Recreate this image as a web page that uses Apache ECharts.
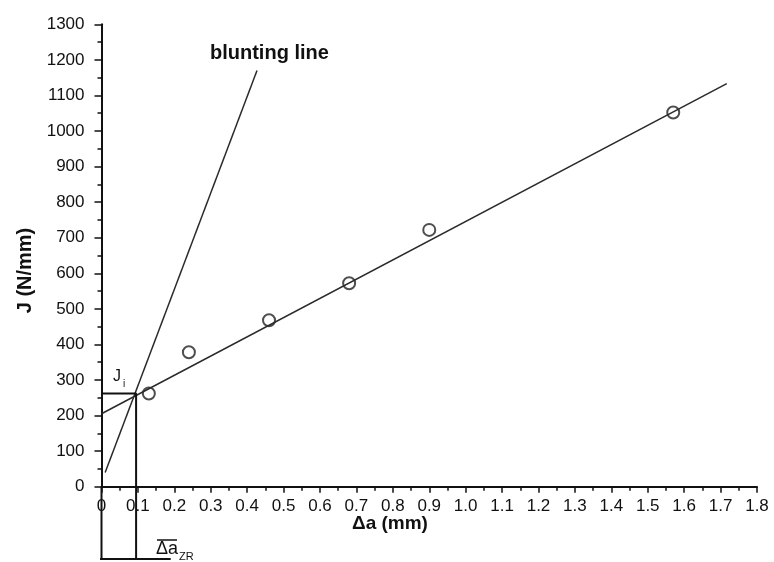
<!DOCTYPE html>
<html>
<head>
<meta charset="utf-8">
<script src="https://cdn.jsdelivr.net/npm/echarts@6/dist/echarts.min.js"></script>
<style>
  html, body { margin: 0; padding: 0; background: #fff; }
  #main { width: 774px; height: 562px; }
</style>
</head>
<body>
<div id="main"></div>
<script>
// measured points
var crackExt = [0.13, 0.24, 0.46, 0.68, 0.90, 1.57];
var jValues = [262, 378, 468, 572, 722, 1052];

// fitted line and blunting line (end points)
var fitLine = [[0, 205], [1.717, 1133]];
var bluntLine = [[0.01, 40], [0.427, 1170]];

// initiation point J_i
var jiPoint = [0.095, 262];
var dropTo = -203;
var baseLine = [[-0.078, -203], [0.19, -203]];

var xMax = 1.8, yMax = 1300;

var font = 'Liberation Sans, Arial, sans-serif';
var ink = '#111';

var myChart = echarts.init(document.getElementById('main'));

var points = crackExt.map(function (x, i) { return [x, jValues[i]]; });

var option = {
    backgroundColor: '#fff',
    animation: false,
    grid: {
        left: 101.5,
        right: 17,
        top: 24.3,
        bottom: 75.3
    },
    xAxis: {
        type: 'value',
        min: 0,
        max: xMax,
        interval: 0.1,
        splitLine: { show: false },
        axisLine: { onZero: false, lineStyle: { color: ink, width: 2 } },
        axisTick: { length: 6, lineStyle: { color: ink, width: 1.5 } },
        minorTick: { show: true, splitNumber: 2, length: 4, lineStyle: { color: ink, width: 1.5 } },
        axisLabel: {
            color: ink, fontFamily: font, fontSize: 17, margin: 11,
            formatter: function (v) { return v === 0 ? '0' : v.toFixed(1); }
        }
    },
    yAxis: {
        type: 'value',
        min: 0,
        max: yMax,
        interval: 100,
        name: 'J (N/mm)',
        nameLocation: 'middle',
        nameGap: 64,
        nameTextStyle: { color: ink, fontFamily: font, fontSize: 20, fontWeight: 'bold', padding: [0, 30, 0, 0] },
        splitLine: { show: false },
        axisLine: { lineStyle: { color: ink, width: 2 } },
        axisTick: { length: 7, lineStyle: { color: ink, width: 1.5 } },
        minorTick: { show: true, splitNumber: 2, length: 4, lineStyle: { color: ink, width: 1.5 } },
        axisLabel: {
            color: ink, fontFamily: font, fontSize: 17, margin: 17,
            formatter: function (v) { return String(v); }
        }
    },
    graphic: [
        {
            type: 'text', left: 210, top: 43,
            style: { text: 'blunting line', font: 'bold 20px ' + font, fill: ink }
        },
        {
            type: 'text', left: 352, top: 514,
            style: { text: 'Δa (mm)', font: 'bold 19px ' + font, fill: ink }
        },
        {
            type: 'text', left: 113, top: 369,
            style: { text: 'J', font: '16px ' + font, fill: ink }
        },
        {
            type: 'text', left: 123, top: 379,
            style: { text: 'i', font: '10px ' + font, fill: ink }
        },
        {
            type: 'text', left: 156, top: 540,
            style: { text: 'Δa', font: '18px ' + font, fill: ink }
        },
        {
            type: 'line',
            shape: { x1: 157, y1: 540, x2: 177, y2: 540 },
            style: { stroke: ink, lineWidth: 1.5 }
        },
        {
            type: 'text', left: 179, top: 551,
            style: { text: 'ZR', font: '11px ' + font, fill: ink }
        }
    ],
    series: [
        {
            name: 'fit',
            type: 'line',
            data: fitLine,
            symbol: 'none',
            lineStyle: { color: '#2a2a2a', width: 1.5 }
        },
        {
            name: 'blunting',
            type: 'line',
            data: bluntLine,
            symbol: 'none',
            lineStyle: { color: '#2a2a2a', width: 1.5 }
        },
        {
            name: 'Ji',
            type: 'line',
            clip: false,
            data: [[0, jiPoint[1]], jiPoint, [jiPoint[0], dropTo]],
            symbol: 'none',
            lineStyle: { color: ink, width: 2 }
        },
        {
            name: 'zero',
            type: 'line',
            clip: false,
            data: [[0, 0], [0, dropTo]],
            symbol: 'none',
            lineStyle: { color: ink, width: 2 }
        },
        {
            name: 'base',
            type: 'line',
            clip: false,
            data: baseLine,
            symbol: 'none',
            lineStyle: { color: ink, width: 2 }
        },
        {
            name: 'data',
            type: 'scatter',
            data: points,
            symbol: 'emptyCircle',
            symbolSize: 12,
            itemStyle: { color: '#222', borderColor: '#222', borderWidth: 1.6 }
        }
    ]
};

myChart.setOption(option);
</script>
</body>
</html>
